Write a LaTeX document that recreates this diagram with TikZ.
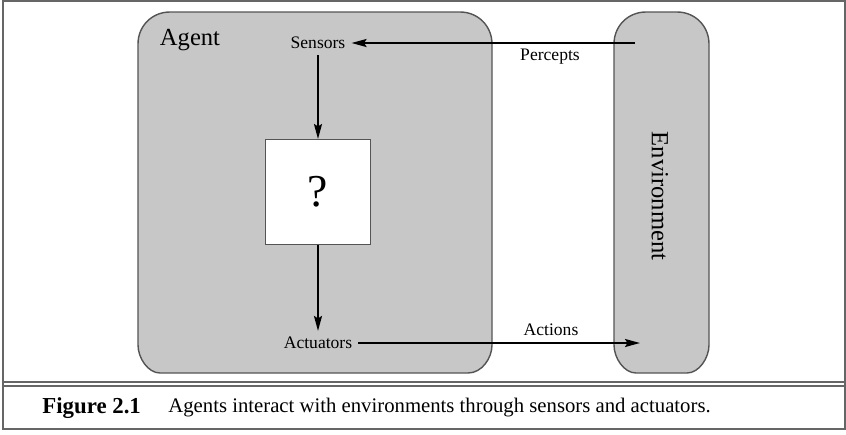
\documentclass[tikz,border=0pt]{standalone}
\usepackage{fontspec}
\setmainfont{Liberation Serif}
\usetikzlibrary{arrows.meta,positioning}
\definecolor{BoxClr}{rgb}{0.78,0.78,0.78}
\definecolor{EdgeClr}{rgb}{0.33,0.33,0.33}
\definecolor{FrameClr}{rgb}{0.4,0.4,0.4}

\begin{document}
\begin{tikzpicture}[x=0.02cm,y=-0.02cm,
  panel/.style={fill=BoxClr,draw=EdgeClr,line width=0.8pt},
  flow/.style={-{Stealth[length=3mm,width=1.6mm,inset=0.5mm]},line width=1.1pt},
  lbl/.style={font=\fontsize{10}{12}\selectfont}]
\useasboundingbox (0,0) rectangle (846,434);

% frame and caption rule
\draw[FrameClr,line width=1pt] (3,1) rectangle (845,429);
\draw[FrameClr,line width=0.8pt] (3,382) -- (845,382) (3,386) -- (845,386);

% agent box
\draw[panel] (138,345) -- (138,44) .. controls (138,26) and (152,12) .. (170,12)
  -- (460,12) .. controls (478,12) and (492,26) .. (492,44)
  -- (492,345) .. controls (492,358) and (482,373) .. (468,373)
  -- (160,373) .. controls (148,373) and (138,358) .. cycle;

% environment box
\draw[panel] (614,345) -- (614,44) .. controls (614,26) and (628,12) .. (646,12)
  -- (677,12) .. controls (695,12) and (709,26) .. (709,44)
  -- (709,345) .. controls (709,358) and (699,373) .. (687,373)
  -- (636,373) .. controls (624,373) and (614,358) .. cycle;

\node[font=\fontsize{14}{16}\selectfont] (agent) at (190,40) {Agent};
\node[font=\fontsize{14}{16}\selectfont,rotate=-90] (env) at (660,196) {Environment};

\node[lbl] (sens) at (318,43) {Sensors};
\node[lbl] (act) at (318,343) {Actuators};
\node[draw=EdgeClr,fill=white,line width=0.6pt,minimum width=2.1cm,minimum height=2.1cm,
  font=\fontsize{26}{28}\selectfont] (q) at (318,192) {?};

\coordinate (perc) at (635,43);
\coordinate (actout) at (640,343);

\draw[flow] (perc) -- (sens);
\draw[flow] (sens) -- (q);
\draw[flow] (q) -- (act);
\draw[flow] (act) -- (actout);

\node[lbl] (pl) at (550,57) {Percepts};
\node[lbl] (al) at (551,330) {Actions};

% caption
\node[anchor=west,inner sep=0pt,font=\fontsize{13}{15}\selectfont\bfseries] (fig) at (42,408) {Figure 2.1};
\node[anchor=west,inner sep=0pt,font=\fontsize{11.8}{14}\selectfont] (cap) at (168,408)
  {Agents interact with environments through sensors and actuators.};

\end{tikzpicture}
\end{document}
